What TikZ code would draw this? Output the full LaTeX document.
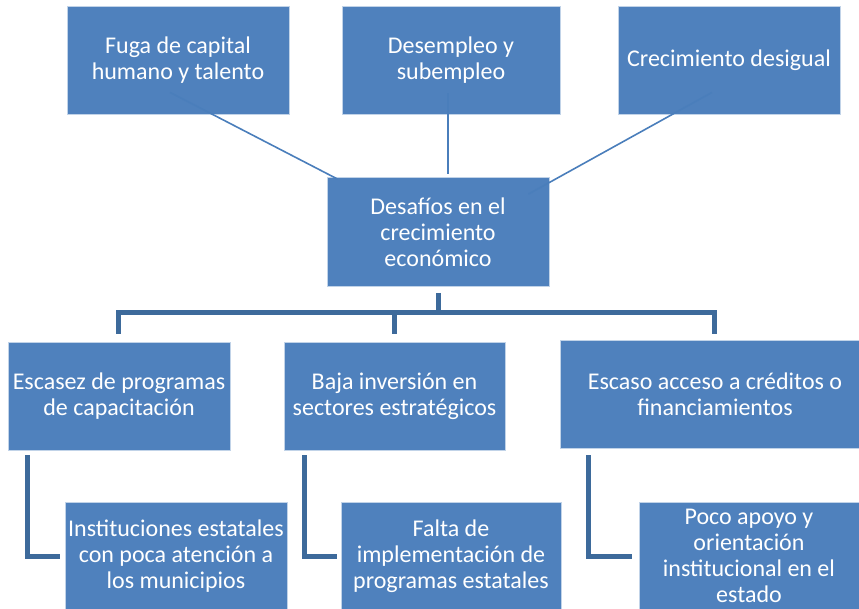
\documentclass[tikz,border=0pt]{standalone}
\usepackage{fontspec}
\setmainfont{Carlito}
\usetikzlibrary{positioning,calc}
\definecolor{boxblue}{HTML}{4F81BD}
\definecolor{linkblue}{HTML}{4A7EBB}
\definecolor{trunkblue}{HTML}{3D6A9B}

\tikzset{
  box/.style={rectangle, fill=boxblue, draw=white!65!boxblue, line width=0.8pt,
    text=white, align=center, inner sep=1pt, font=\fontsize{24}{26}\selectfont,
    minimum width=222pt, minimum height=108pt},
  tline/.style={linkblue, line width=1.6pt},
  trunk/.style={trunkblue, line width=5pt}
}

\begin{document}
\begin{tikzpicture}[x=1pt, y=-1pt]
  \useasboundingbox (0,0) rectangle (859,609);

  % === Top row: effects ===
  \node[box] (fuga) at (178,60) {Fuga de capital\\humano y talento};
  \node[box, minimum width=218pt] (desempleo) at (451,60) {Desempleo y\\subempleo};
  \node[box] (desigual) at (729,60) {Crecimiento desigual};

  % === Central problem ===
  \node[box, minimum height=109pt] (centro) at (438,232) {Desafíos en el\\crecimiento\\económico};

  % === Middle row: causes ===
  \node[box] (escasez) at (119,396) {Escasez de programas\\de capacitación};
  \node[box, minimum width=221pt] (baja) at (394.5,396) {Baja inversión en\\sectores estratégicos};
  \node[box, minimum width=310pt] (escaso) at (715,394) {Escaso acceso a créditos o\\financiamientos};

  % === Bottom row: sub-causes ===
  \node[box] (inst) at (176,556) {Instituciones estatales\\con poca atención a\\los municipios};
  \node[box, minimum width=220pt] (falta) at (451,556) {Falta de\\implementación de\\programas estatales};
  \node[box, minimum width=220pt] (poco) at (749,556) {Poco apoyo y\\orientación\\institucional en el\\estado};

  % Thin links up to the effects
  \draw[tline] ($(fuga.south)+(-8,-22)$) -- ($(centro.north west)+(11,2)$);
  \draw[tline] ($(desempleo.south)+(-3,-21)$) -- ($(centro.north)+(10,-3)$);
  \draw[tline] ($(desigual.south)+(-17,-22)$) -- ($(centro.north east)+(-21,17)$);

  % Thick bracket down to the causes
  \coordinate (bus) at (0,313);
  \draw[trunk] ($(centro.south)+(0,6)$) -- (centro.south |- bus);
  \draw[trunk] ($(escasez.north)+(-1,-8)$) |- ($(bus -| escaso.north)+(-1,0)$) -- ++(0,21);
  \draw[trunk] (bus -| baja.north) -- ++(0,21);

  % Elbows to the sub-causes
  \draw[trunk] ($(escasez.south west)+(20,5)$) |- ($(inst.west)+(-5,0)$);
  \draw[trunk] ($(baja.south west)+(21,5)$) |- ($(falta.west)+(-4,0)$);
  \draw[trunk] ($(escaso.south west)+(29,7)$) |- ($(poco.west)+(-7,0)$);
\end{tikzpicture}
\end{document}
